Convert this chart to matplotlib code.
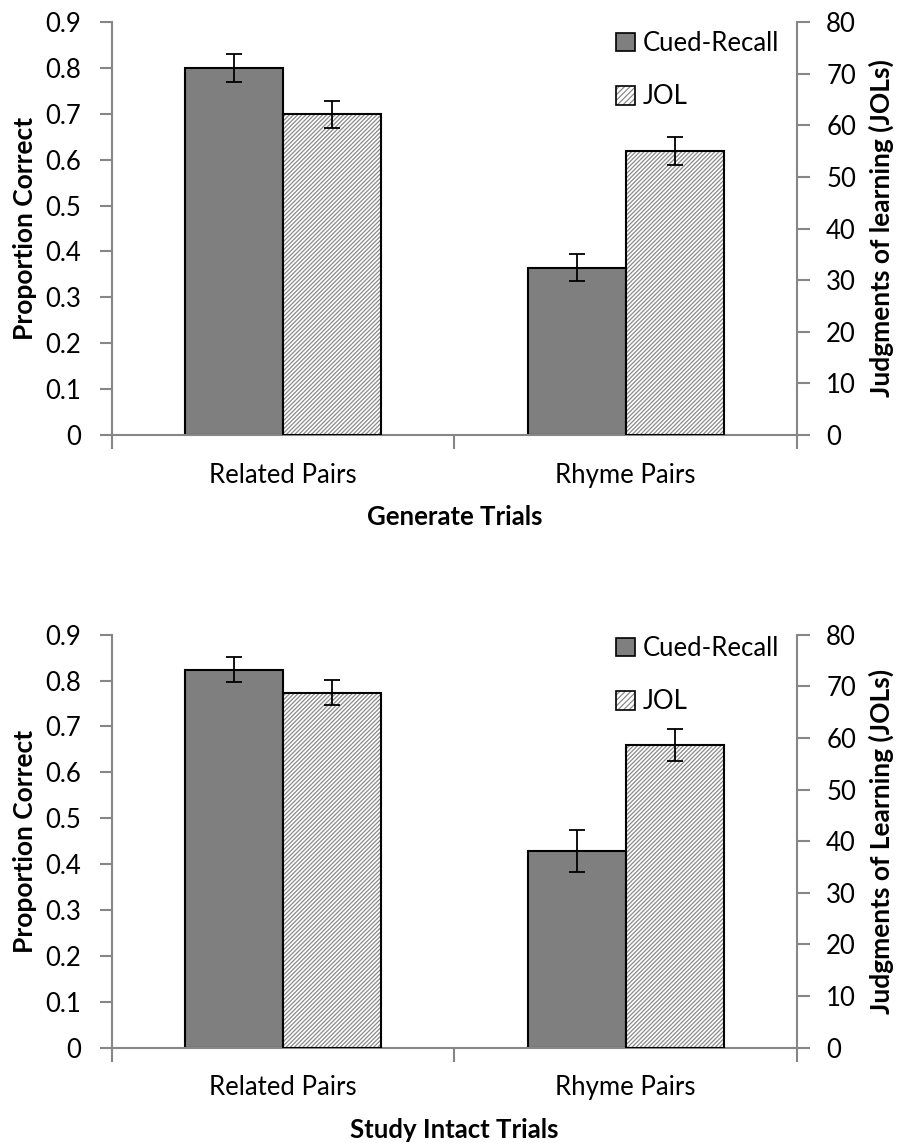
import numpy as np
import matplotlib.pyplot as plt

plt.rcParams['font.family'] = ['Lato', 'DejaVu Sans']
plt.rcParams['hatch.linewidth'] = 0.9

categories = ['Related Pairs', 'Rhyme Pairs']
series_names = ['Cued-Recall', 'JOL']

# panel 1 : Generate Trials
gen_recall = [0.80, 0.365]
gen_recall_err = [0.030, 0.030]
gen_jol = [62.1, 55.0]
gen_jol_err = [2.6, 2.7]

# panel 2 : Study Intact Trials
study_recall = [0.824, 0.429]
study_recall_err = [0.028, 0.046]
study_jol = [68.8, 58.6]
study_jol_err = [2.5, 3.1]

left_ticks = [0, 0.1, 0.2, 0.3, 0.4, 0.5, 0.6, 0.7, 0.8, 0.9]
left_ticklabels = ['0', '0.1', '0.2', '0.3', '0.4', '0.5', '0.6', '0.7', '0.8', '0.9']
right_ticks = [0, 10, 20, 30, 40, 50, 60, 70, 80]

panels = [
    ('Generate Trials', 'Judgments of learning (JOLs)',
     gen_recall, gen_recall_err, gen_jol, gen_jol_err),
    ('Study Intact Trials', 'Judgments of Learning (JOLs)',
     study_recall, study_recall_err, study_jol, study_jol_err),
]

axis_gray = '#868686'
dark = '#7f7f7f'
hatch_gray = '#8a8a8a'
fs = 18.5
fs_lab = 18.5

fig = plt.figure(figsize=(8.98, 11.43), dpi=100)
rects = [[0.1247, 0.6194, 0.7628, 0.3613], [0.1247, 0.0834, 0.7628, 0.3613]]
leg_y = [1 - 31 / 1143, 1 - 636 / 1143]

x = np.arange(len(categories))
w = 0.286

for i, (xlab, rlab, rec, rec_err, jol, jol_err) in enumerate(panels):
    ax = fig.add_axes(rects[i])
    ax2 = ax.twinx()

    ax.bar(x - w / 2, rec, w, color=dark, edgecolor='black', linewidth=1.5, zorder=2)
    ax.errorbar(x - w / 2, rec, yerr=rec_err, fmt='none', ecolor='black',
                elinewidth=1.3, capsize=5.5, capthick=1.3, zorder=3)

    # hatched bars: hatch drawn in gray, outline drawn in black on top
    ax2.bar(x + w / 2, jol, w, color='white', edgecolor=hatch_gray, hatch='////////',
            linewidth=0, zorder=2)
    ax2.bar(x + w / 2, jol, w, fill=False, edgecolor='black', linewidth=1.5, zorder=3)
    ax2.errorbar(x + w / 2, jol, yerr=jol_err, fmt='none', ecolor='black',
                 elinewidth=1.3, capsize=5.5, capthick=1.3, zorder=4)

    ax.set_xlim(-0.5, 1.5)
    ax.set_ylim(0, 0.9)
    ax2.set_ylim(0, 80)

    ax.set_yticks(left_ticks)
    ax.set_yticklabels(left_ticklabels)
    ax2.set_yticks(right_ticks)

    ax.set_xticks([-0.5, 0.5, 1.5])
    ax.set_xticklabels([])
    ax.set_xticks(x, minor=True)
    ax.set_xticklabels(categories, minor=True)
    ax.tick_params(axis='x', which='major', direction='out', length=10, width=1.5, color=axis_gray)
    ax.tick_params(axis='x', which='minor', length=0, pad=20, labelsize=fs)
    ax.tick_params(axis='y', direction='out', length=9, width=1.5, color=axis_gray,
                   labelsize=fs, pad=13)
    ax2.tick_params(axis='y', direction='out', length=9, width=1.5, color=axis_gray,
                    labelsize=fs, pad=12)

    for a in (ax, ax2):
        a.spines['top'].set_visible(False)
        for s in ('left', 'right', 'bottom'):
            a.spines[s].set_color(axis_gray)
            a.spines[s].set_linewidth(1.5)
    ax.spines['right'].set_visible(False)
    ax2.spines['left'].set_visible(False)
    ax2.spines['bottom'].set_visible(False)

    ax.set_xlabel(xlab, fontsize=fs_lab, fontweight='bold', labelpad=12.5)
    ax.set_ylabel('Proportion Correct', fontsize=fs_lab + 0.5, fontweight='bold', labelpad=6)
    ax2.set_ylabel(rlab, fontsize=fs_lab + 0.5, fontweight='bold', labelpad=9)

    h1 = plt.Rectangle((0, 0), 1, 1, facecolor=dark, edgecolor='black', linewidth=1.2)
    h2 = plt.Rectangle((0, 0), 1, 1, facecolor='white', edgecolor=hatch_gray, hatch='//////', linewidth=0)
    h2b = plt.Rectangle((0, 0), 1, 1, fill=False, edgecolor='black', linewidth=1.2)
    fig.legend([h1, (h2, h2b)], series_names, loc='upper left',
               bbox_to_anchor=(616 / 898, leg_y[i]), frameon=False,
               fontsize=fs, handlelength=0.75, handleheight=0.75,
               handletextpad=0.3, labelspacing=1.1, borderpad=0, borderaxespad=0)

fig.savefig('out.png', dpi=100)
